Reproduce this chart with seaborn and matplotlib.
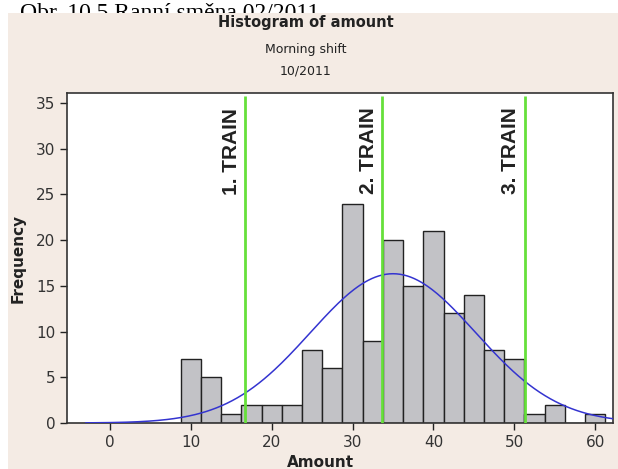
"""Minitab-style histogram of amount with a fitted normal curve and train markers."""
import matplotlib.pyplot as plt
import numpy as np
import pandas as pd
import seaborn as sns
from matplotlib.patches import Rectangle

# histogram bins (centre of each 2.5-wide bin) and counts
bin_centers = [10, 12.5, 15, 17.5, 20, 22.5, 25, 27.5, 30, 32.5, 35,
               37.5, 40, 42.5, 45, 47.5, 50, 52.5, 55, 57.5, 60]
counts = [7, 5, 1, 2, 2, 2, 8, 6, 24, 9, 20,
          15, 21, 12, 14, 8, 7, 1, 2, 0, 1]
bin_width = 2.5

# normal fit
fit_mean = 35.0
fit_stdev = 10.2

# train arrival times
train_labels = ["1. TRAIN", "2. TRAIN", "3. TRAIN"]
train_x = [16.7, 33.7, 51.3]

x_ticks = [0, 10, 20, 30, 40, 50, 60]
y_ticks = [0, 5, 10, 15, 20, 25, 30, 35]

df = pd.DataFrame({"amount": bin_centers, "count": counts})
edges = [c - bin_width / 2 for c in bin_centers] + [bin_centers[-1] + bin_width / 2]

sns.set_style("white")
plt.rcParams["font.family"] = ["DejaVu Sans"]

fig = plt.figure(figsize=(6.18, 4.69), dpi=100, facecolor="white")
# beige panel with the cut-off caption above it
fig.text(20 / 618, 1 - 19 / 469, "Obr. 10.5 Ranní směna 02/2011", family="Liberation Serif",
         fontsize=17, ha="left", va="baseline", color="black", zorder=0)
fig.patches.append(Rectangle((8 / 618, 0), 1, 1 - 13 / 469, transform=fig.transFigure,
                             facecolor="#f4ebe4", edgecolor="none", zorder=1))

ax = fig.add_axes([67 / 618, 1 - 423 / 469, 546 / 618, 330 / 469])
ax.set_zorder(2)
ax.set_facecolor("white")

sns.histplot(data=df, x="amount", weights="count", bins=edges,
             color="#c2c2c6", edgecolor="#222222", linewidth=1.0, alpha=1, ax=ax)

xs = np.linspace(-3, 62.3, 300)
pdf = sum(counts) * bin_width * np.exp(-0.5 * ((xs - fit_mean) / fit_stdev) ** 2) / (fit_stdev * np.sqrt(2 * np.pi))
sns.lineplot(x=xs, y=pdf, color="#3434d0", linewidth=1.1, ax=ax, zorder=4)

ax.vlines(train_x, 0, 35.8, color="#66e03a", linewidth=2, zorder=5)
for lab, xv in zip(train_labels, train_x):
    ax.text(xv - 0.55, 34.5, lab, rotation=90, ha="right", va="top",
            family="Liberation Sans", fontweight="bold", fontsize=15, color="#222222")

ax.set_xlim(-5.3, 62.2)
ax.set_ylim(0, 36.1)
ax.set_xticks(x_ticks)
ax.set_yticks(y_ticks)
ax.tick_params(axis="both", direction="out", length=5, width=1, color="#222222",
               labelsize=11, labelcolor="#333333", bottom=True, left=True)
for sp in ax.spines.values():
    sp.set_color("#333333")
    sp.set_linewidth(1.2)

ax.set_xlabel("Amount", fontsize=11, fontweight="bold", color="#222222")
ax.set_ylabel("Frequency", fontsize=11, fontweight="bold", color="#222222")
ax.xaxis.set_label_coords((320 - 67) / 546, -(455 - 423) / 330)
ax.yaxis.set_label_coords(-(67 - 26) / 546, 0.5)

fig.text(306 / 618, 1 - 23 / 469, "Histogram of amount", ha="center", va="center",
         fontsize=10.5, fontweight="bold", color="#222222", zorder=3)
fig.text(306 / 618, 1 - 50 / 469, "Morning shift", ha="center", va="center",
         fontsize=9, color="#222222", zorder=3)
fig.text(306 / 618, 1 - 71 / 469, "10/2011", ha="center", va="center",
         fontsize=9, color="#222222", zorder=3)

fig.savefig("out.png", dpi=100, facecolor=fig.get_facecolor())
plt.close(fig)
